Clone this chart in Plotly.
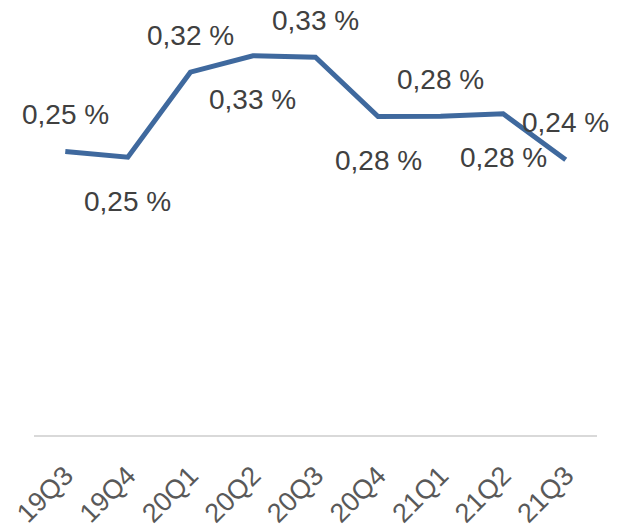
import plotly.graph_objects as go

categories = ["19Q3", "19Q4", "20Q1", "20Q2", "20Q3", "20Q4", "21Q1", "21Q2", "21Q3"]
values = [0.2512, 0.2462, 0.3215, 0.3360, 0.3348, 0.2822, 0.2824, 0.2846, 0.2438]
labels = ["0,25 %", "0,25 %", "0,32 %", "0,33 %", "0,33 %", "0,28 %", "0,28 %", "0,28 %", "0,24 %"]
label_side = ["above", "below", "above", "below", "above", "below", "above", "below", "above"]

fig = go.Figure()
fig.add_trace(go.Scatter(
    x=categories, y=values, mode="lines",
    line=dict(color="#3F699E", width=5),
    hoverinfo="skip",
))

for c, v, t, s in zip(categories, values, labels, label_side):
    fig.add_annotation(
        x=c, y=v, text=t, showarrow=False,
        xanchor="center", yanchor="middle",
        yshift=37 if s == "above" else -44,
        font=dict(family="Liberation Sans, Arial, sans-serif", size=28, color="#404040"),
    )

fig.update_layout(
    width=618, height=529,
    margin=dict(l=34, r=21, t=40, b=94, autoexpand=False),
    paper_bgcolor="white", plot_bgcolor="white",
    showlegend=False,
    xaxis=dict(
        type="category", range=[-0.5, 8.5],
        showgrid=False, zeroline=False,
        showline=True, linecolor="#D9D9D9", linewidth=2,
        ticks="", tickangle=-45, automargin=False,
        tickfont=dict(family="Liberation Sans, Arial, sans-serif", size=27, color="#595959"),
        ticklabelstandoff=12,
    ),
    yaxis=dict(
        range=[0, 0.35], visible=False, showgrid=False, zeroline=False,
    ),
)

fig.write_html("out.html")
